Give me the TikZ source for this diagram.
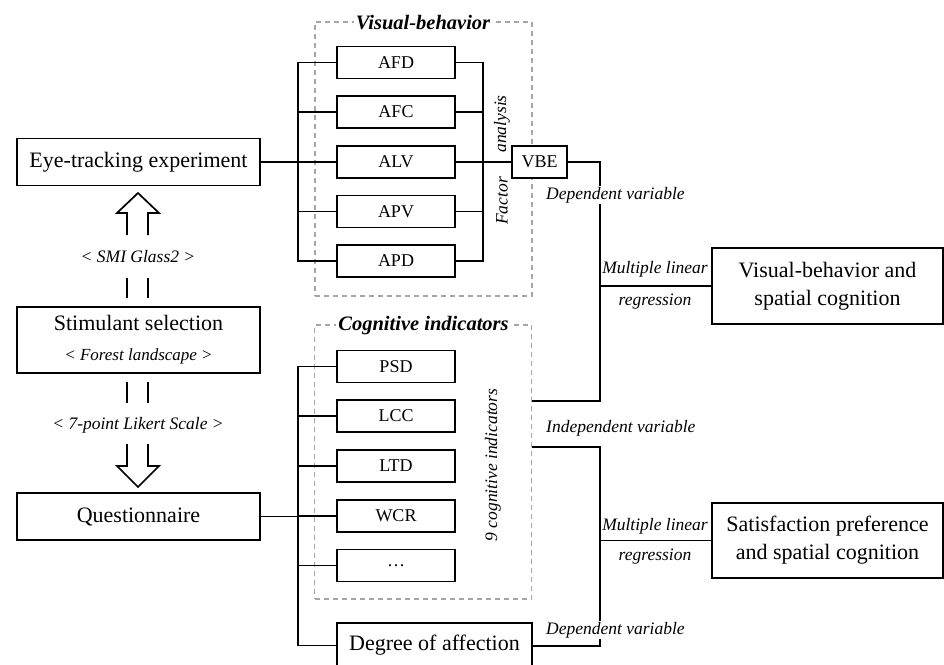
\documentclass[tikz,border=0pt]{standalone}
\usepackage{fontspec}
\setmainfont{Liberation Serif}
\tikzset{
  bigbox/.style={draw, line width=1.7pt, inner sep=0pt, minimum width=243pt, minimum height=47pt, align=center, font=\fontsize{22}{26}\selectfont},
  smallbox/.style={draw, line width=1.7pt, fill=white, inner sep=0pt, minimum width=118pt, minimum height=32pt, font=\fontsize{18}{20}\selectfont},
  resbox/.style={draw, line width=1.7pt, inner sep=0pt, minimum width=231pt, minimum height=76pt, align=center, font=\fontsize{22}{28}\selectfont},
  grpbox/.style={draw=gray!70, line width=1.8pt, dash pattern=on 5pt off 4pt, inner sep=0pt, minimum width=217pt, minimum height=274pt},
  grptitle/.style={fill=white, inner sep=2pt, font=\bfseries\itshape\fontsize{20.5}{22}\selectfont},
  lbl/.style={inner sep=1pt, font=\itshape\fontsize{17.5}{20}\selectfont},
  wire/.style={line width=1.7pt},
}
\begin{document}
\begin{tikzpicture}[x=1pt,y=-1pt]
  \clip (0,0) rectangle (944,664);
  \fill[white] (0,0) rectangle (944,664);
  % Groups
  \node[grpbox] (vgrp) at (423.5,159) {};
  \node[grpbox] (cgrp) at (423,462) {};
  \node[grptitle] (vtitle) at (423,23) {Visual-behavior};
  \node[grptitle] (ctitle) at (423.5,326) {Cognitive indicators};
  % Left column
  \node[bigbox] (eye) at (138.5,162) {Eye-tracking experiment};
  \node[bigbox, minimum height=66pt] (stim) at (138.5,340) {Stimulant selection\\[4pt]{\itshape\fontsize{17}{20}\selectfont < Forest landscape >}};
  \node[bigbox] (quest) at (138.5,516.5) {Questionnaire};
  \node[lbl] (smi) at (138,257) {< SMI Glass2 >};
  \node[lbl] (likert) at (138,425) {< 7-point Likert Scale >};
  % Block arrows
  \draw[wire, line join=miter] (127,235) -- (127,213) -- (117,213) -- (138,193) -- (159,213) -- (148,213) -- (148,235);
  \draw[wire, line join=miter] (127,444) -- (127,466) -- (117,466) -- (138,487) -- (159,466) -- (148,466) -- (148,444);
  \draw[wire] (127,278) -- (127,298) (148,278) -- (148,298);
  \draw[wire] (127,382) -- (127,403) (148,382) -- (148,403);
  % Visual-behavior indicators
  \node[smallbox] (afd) at (396,62.5) {AFD};
  \node[smallbox] (afc) at (396,112) {AFC};
  \node[smallbox] (alv) at (396,162) {ALV};
  \node[smallbox] (apv) at (396,211.5) {APV};
  \node[smallbox] (apd) at (396,261) {APD};
  \node[smallbox, minimum width=55pt] (vbe) at (539.5,162) {VBE};
  \node[lbl, rotate=90] (fa1) at (502,124) {analysis};
  \node[lbl, rotate=90] (fa2) at (502,201) {Factor};
  % Cognitive indicators
  \node[smallbox] (psd) at (396,366.5) {PSD};
  \node[smallbox] (lcc) at (396,416) {LCC};
  \node[smallbox] (ltd) at (396,466) {LTD};
  \node[smallbox] (wcr) at (396,516) {WCR};
  \node[smallbox] (more) at (396,565.5) {\dots};
  \node[lbl, rotate=90] (nine) at (493,465) {9 cognitive indicators};
  \node[bigbox, minimum width=195pt, minimum height=45pt] (affect) at (434.5,645.5) {};
  \node[font=\fontsize{22}{26}\selectfont] (affecttxt) at (434.5,645) {Degree of affection};
  % Results
  \node[resbox] (vbsc) at (827.5,286) {Visual-behavior and\\spatial cognition};
  \node[resbox, minimum height=75pt] (spsc) at (827.5,540.5) {Satisfaction preference\\and spatial cognition};
  % Bus coordinates
  \coordinate (busl) at (298,0);
  \coordinate (busr) at (483,0);
  \coordinate (junc1) at (600,401);
  \coordinate (junc2) at (600,447);
  \coordinate (junc3) at (600,646);
  % Connection
  \draw[wire] (eye.east) -- (eye.east -| busl);
  \draw[wire] (afd.west) -- (afd.west -| busl) -- (apd.west -| busl) -- (apd.west);
  \draw[wire] (afd.east) -- (afd.east -| busr) -- (apd.east -| busr) -- (apd.east);
  \foreach \n in {afc,alv,apv}
    \draw[wire] (\n.west -| busl) -- (\n.west) (\n.east) -- (\n.east -| busr);
  \draw[wire] (alv.east) -- (vbe.west);
  \draw[wire] (vbe.east) -| (junc1) -- (junc1 -| cgrp.east);
  \draw[wire] (cgrp.east |- junc2) -- (junc2) -- (junc3) -- (affect.east |- junc3);
  \draw[wire] (quest.east) -- (quest.east -| busl);
  \draw[wire] (psd.west) -- (psd.west -| busl) -- (busl |- affect.west) -- (affect.west);
  \foreach \n in {lcc,ltd,wcr,more}
    \draw[wire] (\n.west -| busl) -- (\n.west);
  \draw[wire] (vbsc.west -| junc1) -- (vbsc.west);
  \draw[wire] (spsc.west -| junc2) -- (spsc.west);
  % Labels
  \node[lbl, fill=white, anchor=west] (dep1) at (545,195) {Dependent variable};
  \node[lbl, anchor=west] (indep) at (545,428) {Independent variable};
  \node[lbl, fill=white, anchor=west] (dep2) at (545,630) {Dependent variable};
  \node[lbl] (mlr1) at (655,269) {Multiple linear};
  \node[lbl] (reg1) at (655,302) {regression};
  \node[lbl] (mlr2) at (655,526) {Multiple linear};
  \node[lbl] (reg2) at (655,557) {regression};
\end{tikzpicture}
\end{document}
